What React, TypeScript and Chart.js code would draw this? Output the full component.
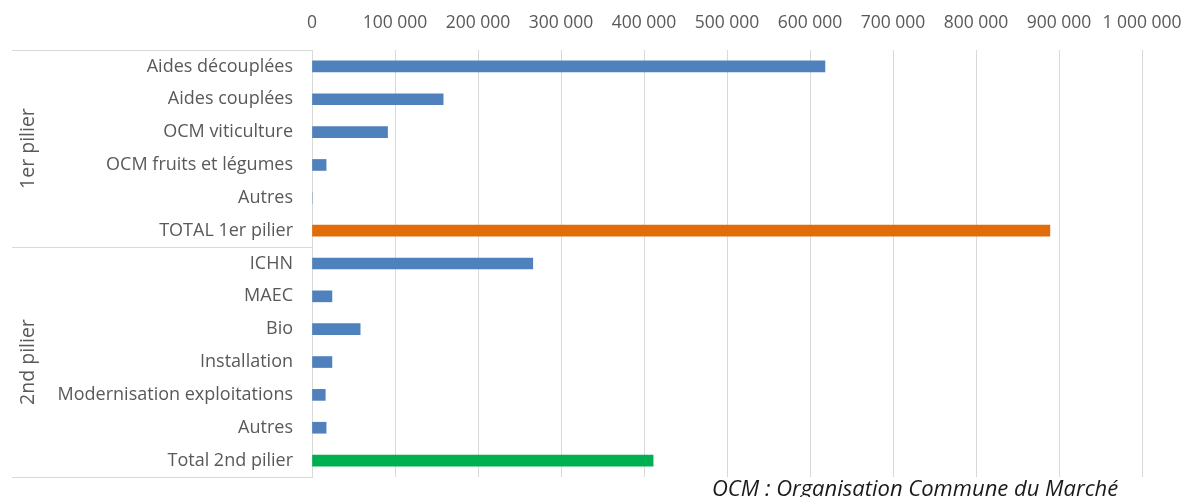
import React, { useEffect, useRef } from "react";
import { Chart, registerables } from "chart.js";

Chart.register(...registerables);

// Aid categories, top to bottom
const categories = [
  "Aides découplées",
  "Aides couplées",
  "OCM viticulture",
  "OCM fruits et légumes",
  "Autres",
  "TOTAL 1er pilier",
  "ICHN",
  "MAEC",
  "Bio",
  "Installation",
  "Modernisation exploitations",
  "Autres",
  "Total 2nd pilier",
];

// Amounts per category
const amounts = [
  618000, 158000, 91000, 17000, 0, 889000,
  266000, 24000, 58000, 24000, 16000, 17000, 411000,
];

// Which kind of row each category is: detail, total of pillar 1, total of pillar 2
const rowKinds = [
  "detail", "detail", "detail", "detail", "detail", "total1",
  "detail", "detail", "detail", "detail", "detail", "detail", "total2",
];

// Pillar groups shown on the left
const groupNames = ["1er pilier", "2nd pilier"];
const groupSizes = [6, 7];

// Axis ticks
const axisMin = 0;
const axisMax = 1000000;
const axisStep = 100000;

const kindColors: Record<string, string> = {
  detail: "#4F81BD",
  total1: "#E36C0A",
  total2: "#00B050",
};

const FONT = "'Open Sans', sans-serif";
const TEXT_GREY = "#595959";
const LINE_GREY = "#d9d9d9";

const formatThousands = (v: number) =>
  String(Math.round(v)).replace(/\B(?=(\d{3})+(?!\d))/g, " ");

const groupPlugin = {
  id: "pillarGroups",
  afterDraw(chart: any) {
    const { ctx, chartArea, scales } = chart;
    const y = scales.y;
    const step = y.getPixelForValue(1) - y.getPixelForValue(0);
    const lineLeft = 12;
    ctx.save();
    ctx.strokeStyle = LINE_GREY;
    ctx.lineWidth = 1;
    let start = 0;
    const edges: number[] = [y.getPixelForValue(0) - step / 2];
    groupSizes.forEach((size, gi) => {
      const top = y.getPixelForValue(start) - step / 2;
      const bottom = y.getPixelForValue(start + size - 1) + step / 2;
      edges.push(bottom);
      ctx.save();
      ctx.translate(28, (top + bottom) / 2);
      ctx.rotate(-Math.PI / 2);
      ctx.fillStyle = TEXT_GREY;
      ctx.font = `19.5px ${FONT}`;
      ctx.textAlign = "center";
      ctx.textBaseline = "middle";
      ctx.fillText(groupNames[gi], 0, 0);
      ctx.restore();
      start += size;
    });
    edges.forEach((e) => {
      const yy = Math.round(e) + 0.5;
      ctx.beginPath();
      ctx.moveTo(lineLeft, yy);
      ctx.lineTo(chartArea.left, yy);
      ctx.stroke();
    });
    ctx.restore();
  },
};

export default function App() {
  const canvasRef = useRef<HTMLCanvasElement | null>(null);

  useEffect(() => {
    if (!canvasRef.current) return;
    const colors = rowKinds.map((k) => kindColors[k]);
    const chart = new Chart(canvasRef.current, {
      type: "bar",
      data: {
        labels: categories,
        datasets: [
          {
            data: amounts,
            backgroundColor: colors,
            borderWidth: 0,
            barThickness: 11,
          },
        ],
      },
      options: {
        indexAxis: "y",
        responsive: false,
        animation: false,
        layout: { padding: { left: 0, right: 42, top: 0, bottom: 20 } },
        plugins: {
          legend: { display: false },
          tooltip: { enabled: false },
        },
        scales: {
          x: {
            position: "top",
            min: axisMin,
            max: axisMax,
            grid: { color: LINE_GREY, lineWidth: 1, drawTicks: false },
            border: { display: false },
            ticks: {
              stepSize: axisStep,
              color: TEXT_GREY,
              font: { family: FONT, size: 17.5 },
              padding: 16,
              maxRotation: 0,
              callback: (v: any) => formatThousands(Number(v)),
            },
            afterFit: (s: any) => {
              s.height = 50;
              s.paddingLeft = 0;
              s.paddingRight = 0;
            },
          },
          y: {
            grid: { display: false, drawTicks: false },
            border: { display: true, color: LINE_GREY },
            ticks: {
              color: TEXT_GREY,
              font: { family: FONT, size: 18 },
              padding: 19,
              autoSkip: false,
            },
            afterFit: (s: any) => {
              s.width = 312;
              s.paddingTop = 0;
              s.paddingBottom = 0;
            },
          },
        },
      },
      plugins: [groupPlugin],
    } as any);
    return () => chart.destroy();
  }, []);

  return (
    <div
      style={{
        position: "absolute",
        left: 0,
        top: 0,
        width: 1184,
        height: 497,
        overflow: "hidden",
        background: "#fff",
      }}
    >
      <canvas ref={canvasRef} width={1184} height={497} />
      <div
        style={{
          position: "absolute",
          left: 712,
          top: 472,
          fontFamily: FONT,
          fontStyle: "italic",
          fontSize: 22,
          color: "#1a1a1a",
          whiteSpace: "nowrap",
        }}
      >
        OCM : Organisation Commune du Marché
      </div>
    </div>
  );
}
